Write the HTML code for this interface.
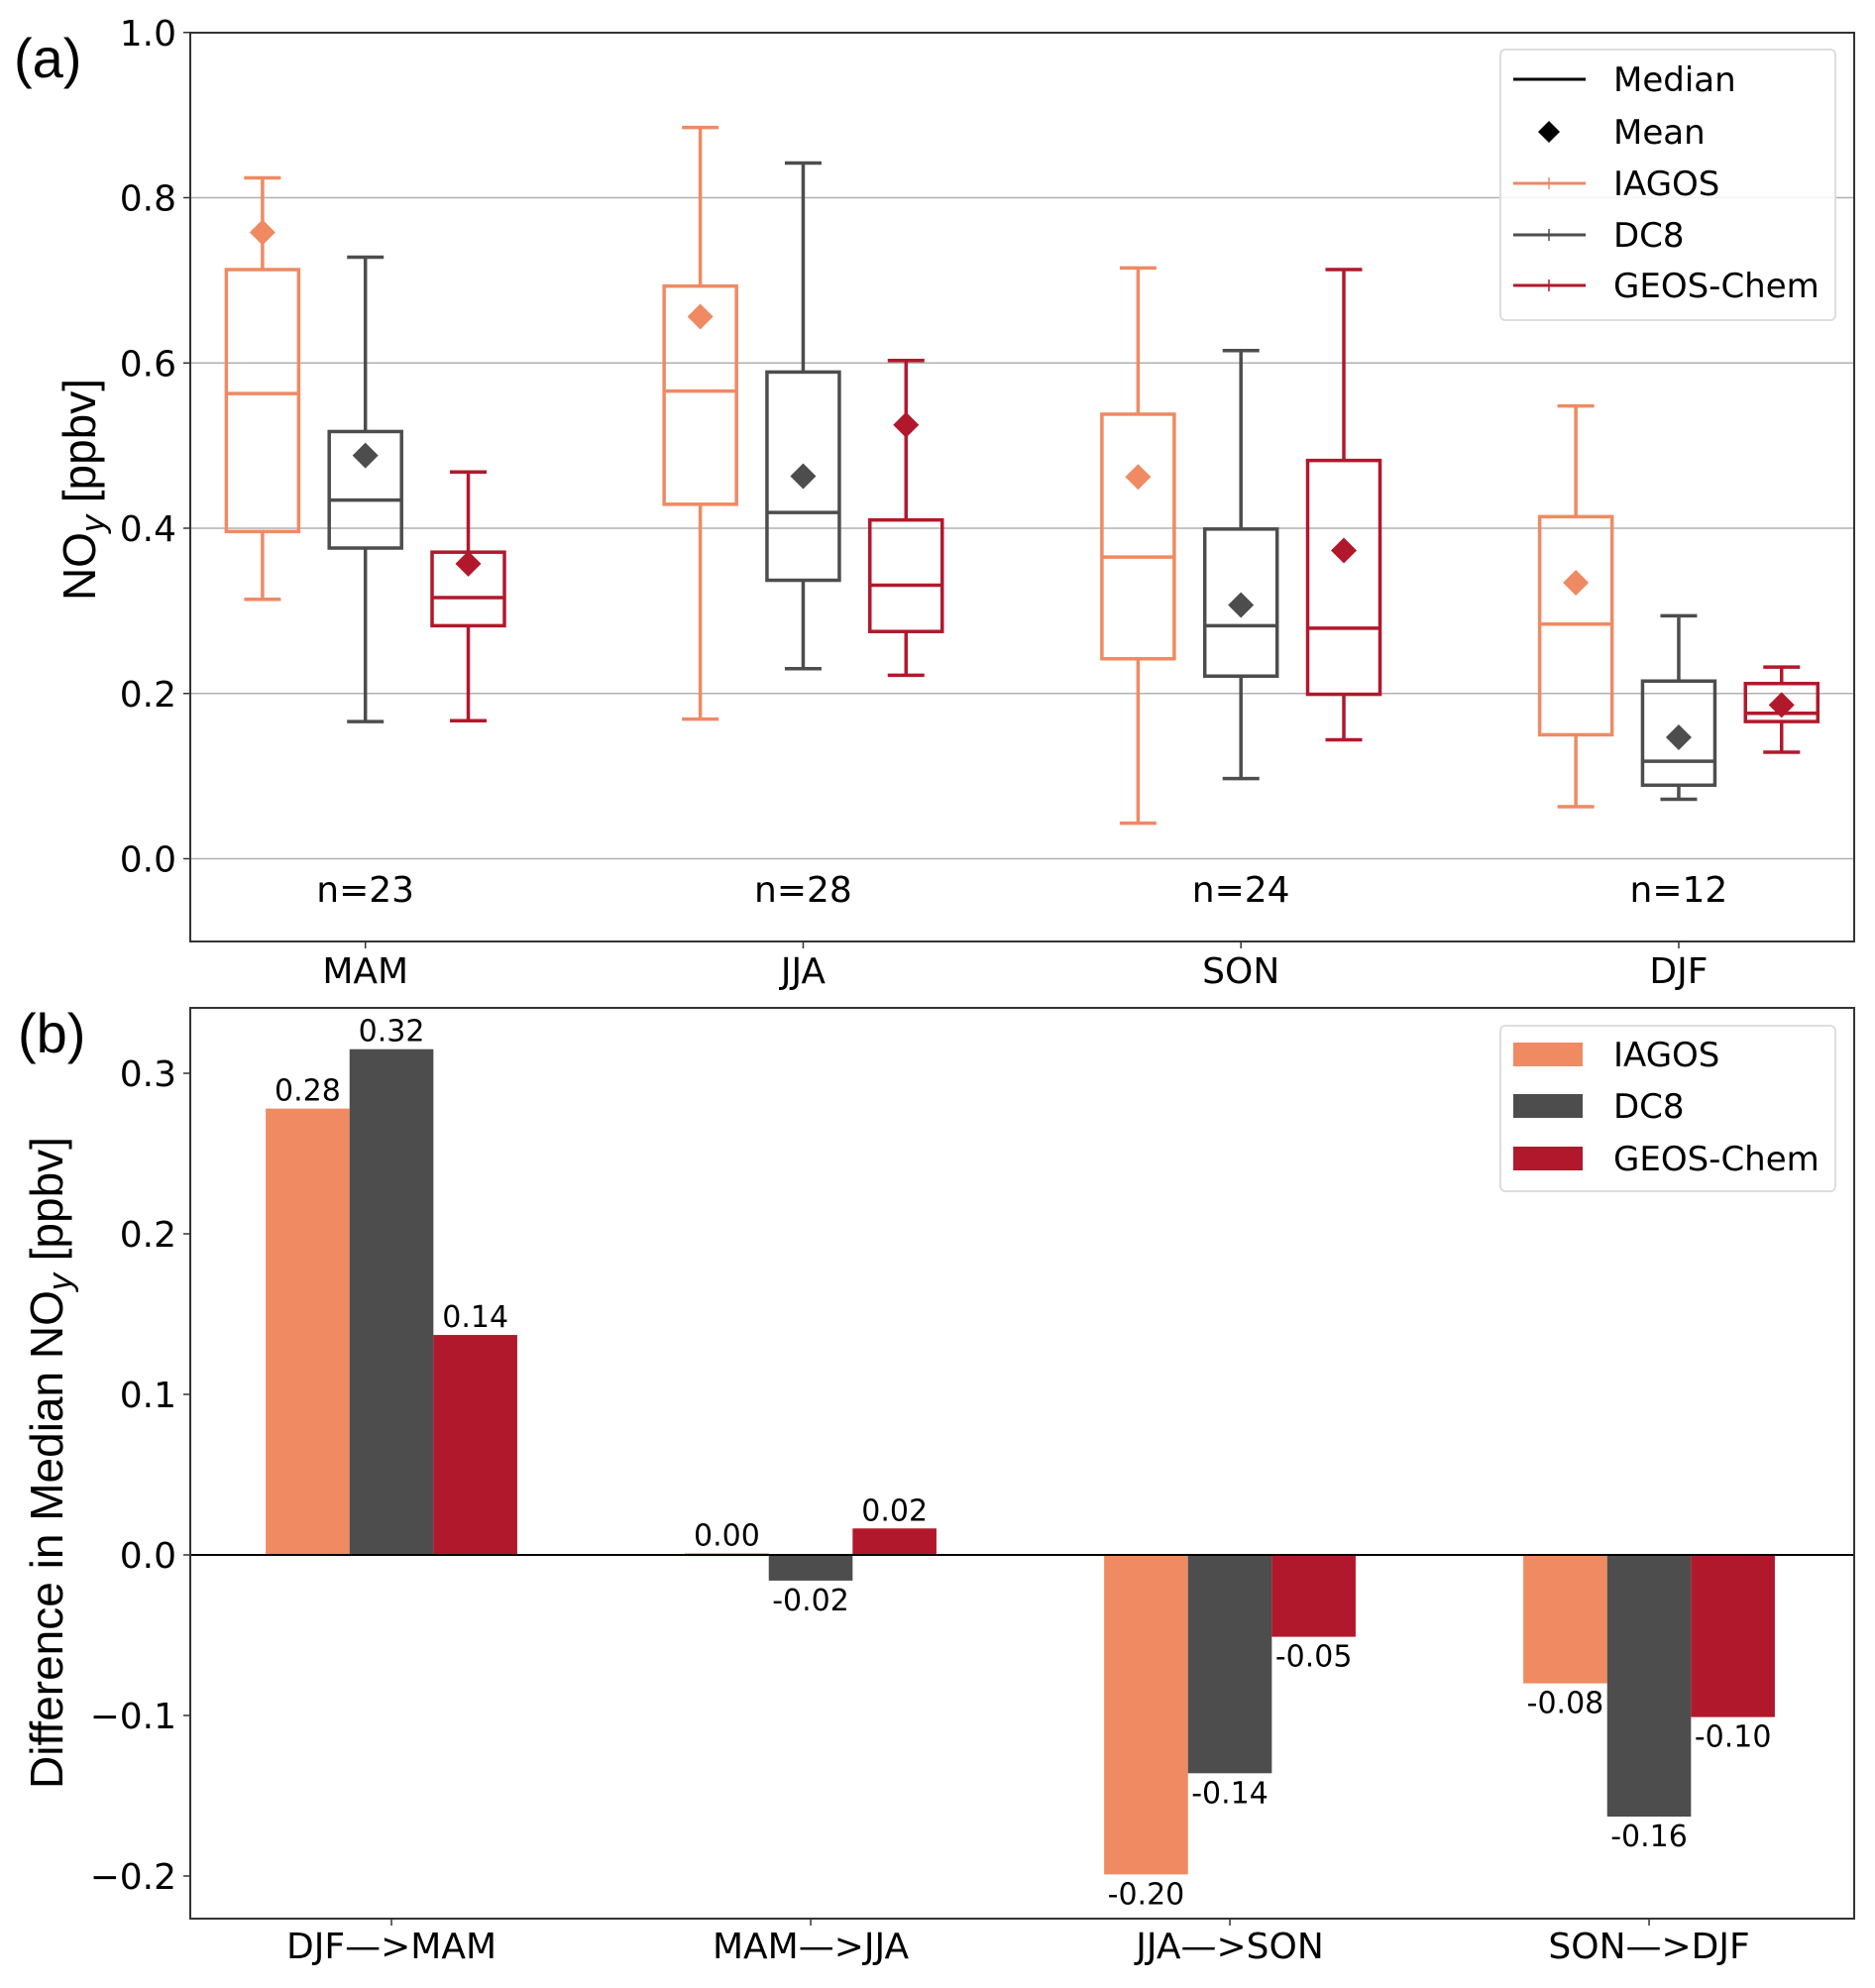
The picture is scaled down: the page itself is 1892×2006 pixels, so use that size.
<!DOCTYPE html>
<html><head><meta charset="utf-8"><style>
html,body{margin:0;padding:0;background:#fff}
svg{display:block}
text{font-family:"DejaVu Sans","Liberation Sans",sans-serif;fill:#000}
</style></head><body>
<svg id="chart" width="1892" height="2006" viewBox="0 0 1892 2006" xmlns="http://www.w3.org/2000/svg"></svg>
<script>
// ---- Panel (a) data ----
const seasons = ["MAM","JJA","SON","DJF"];
const counts = ["n=23","n=28","n=24","n=12"];
const seriesNames = ["IAGOS","DC8","GEOS-Chem"];
const iagosWhiskLow = [0.314,0.169,0.043,0.063];
const iagosQ1 = [0.396,0.429,0.242,0.150];
const iagosMedian = [0.563,0.566,0.365,0.284];
const iagosQ3 = [0.713,0.693,0.538,0.414];
const iagosWhiskHigh = [0.824,0.885,0.715,0.548];
const iagosMean = [0.758,0.656,0.462,0.334];
const dc8WhiskLow = [0.166,0.230,0.097,0.072];
const dc8Q1 = [0.376,0.337,0.221,0.089];
const dc8Median = [0.434,0.419,0.282,0.118];
const dc8Q3 = [0.517,0.589,0.399,0.215];
const dc8WhiskHigh = [0.728,0.842,0.615,0.294];
const dc8Mean = [0.488,0.463,0.307,0.147];
const gcWhiskLow = [0.167,0.222,0.144,0.129];
const gcQ1 = [0.282,0.275,0.199,0.166];
const gcMedian = [0.316,0.331,0.279,0.176];
const gcQ3 = [0.371,0.410,0.482,0.212];
const gcWhiskHigh = [0.468,0.603,0.713,0.232];
const gcMean = [0.357,0.525,0.373,0.186];
const aTicks = [0.0,0.2,0.4,0.6,0.8,1.0];
const aTickLabels = ["0.0","0.2","0.4","0.6","0.8","1.0"];
// ---- Panel (b) data ----
const transitions = ["DJF\u2014>MAM","MAM\u2014>JJA","JJA\u2014>SON","SON\u2014>DJF"];
const iagosDiff = [0.278,0.001,-0.199,-0.080];
const dc8Diff = [0.315,-0.016,-0.136,-0.163];
const gcDiff = [0.137,0.0165,-0.051,-0.101];
const bTicks = [-0.2,-0.1,0.0,0.1,0.2,0.3];
const bTickLabels = ["\u22120.2","\u22120.1","0.0","0.1","0.2","0.3"];

const colors = ["#EF8A62","#4D4D4D","#B2182B"];
const NS = "http://www.w3.org/2000/svg";
const svg = document.getElementById("chart");
function el(tag, attrs, parent, txt){
  const e = document.createElementNS(NS, tag);
  for (const k in attrs) e.setAttribute(k, attrs[k]);
  if (txt !== undefined) e.textContent = txt;
  (parent||svg).appendChild(e);
  return e;
}
const L = 192, R = 1871;
const ya = v => 866.5 - v*833.75;
const xa = i => L + (i + 0.4) * 441.75;
const yb = v => 1569 - v*1620;
const xb = i => L + (i + 0.48) * 423;
const FS = 36;

// ===== Panel (a) =====
const gA = el("g", {});


aTicks.forEach((t,i)=>{
  if (t<1) {
    const g = el("line",{x1:L,x2:R,y1:ya(t),y2:ya(t),stroke:"#b0b0b0","stroke-width":1.5},gA);
    
    
  }
  el("line",{x1:L-7,x2:L,y1:ya(t),y2:ya(t),stroke:"#333","stroke-width":1.5},gA);
  const tl = el("text",{x:L-14,y:ya(t)+13,"text-anchor":"end","font-size":FS},gA,aTickLabels[i]);
  
  
});
const boxSets = [
  [iagosWhiskLow,iagosQ1,iagosMedian,iagosQ3,iagosWhiskHigh,iagosMean],
  [dc8WhiskLow,dc8Q1,dc8Median,dc8Q3,dc8WhiskHigh,dc8Mean],
  [gcWhiskLow,gcQ1,gcMedian,gcQ3,gcWhiskHigh,gcMean]
];
const offs = [-0.235,0,0.235];
seasons.forEach((s,i)=>{
  boxSets.forEach((set,k)=>{
    const cx = xa(i + offs[k]);
    const c = colors[k];
    const g = el("g",{stroke:c,"stroke-width":3.5,fill:"none"},gA);
    
    
    const hw = 36.5, cw = 18.5;
    const [lo,q1,md,q3,hi,mn] = set.map(a=>a[i]);
    el("line",{x1:cx,x2:cx,y1:ya(lo),y2:ya(q1)},g);
    el("line",{x1:cx,x2:cx,y1:ya(q3),y2:ya(hi)},g);
    el("line",{x1:cx-cw,x2:cx+cw,y1:ya(lo),y2:ya(lo)},g);
    el("line",{x1:cx-cw,x2:cx+cw,y1:ya(hi),y2:ya(hi)},g);
    el("rect",{x:cx-hw,y:ya(q3),width:2*hw,height:ya(q1)-ya(q3)},g);
    el("line",{x1:cx-hw,x2:cx+hw,y1:ya(md),y2:ya(md)},g);
    const d = 13, my = ya(mn);
    const m = el("path",{d:`M${cx} ${my-d} L${cx+d} ${my} L${cx} ${my+d} L${cx-d} ${my} Z`,fill:c,stroke:"none"},gA);
    
    
  });
  const n = el("text",{x:xa(i),y:910,"text-anchor":"middle","font-size":FS},gA,counts[i]);
  
  
  el("line",{x1:xa(i),x2:xa(i),y1:950,y2:957,stroke:"#333","stroke-width":1.5},gA);
  const xl = el("text",{x:xa(i),y:992,"text-anchor":"middle","font-size":FS},gA,s);
  
  
});
const frA = el("rect",{x:L,y:33,width:R-L,height:950-33,fill:"none",stroke:"#333","stroke-width":2},gA);


const ylA = el("text",{transform:"translate(96,494) rotate(-90)","text-anchor":"middle","font-size":46,style:"font-family:'Liberation Sans',sans-serif"},gA);


el("tspan",{},ylA,"NO");
el("tspan",{dy:9,"font-size":34,"font-style":"italic"},ylA,"y");
el("tspan",{dy:-9},ylA," [ppbv]");
const pa = el("text",{x:14,y:78,"font-size":56,style:"font-family:'Liberation Sans',sans-serif"},gA,"(a)");


const lgA = el("g",{},gA);


el("rect",{x:1514,y:50,width:338,height:273,rx:5,fill:"#fff","fill-opacity":0.85,stroke:"#ddd","stroke-width":2},lgA);
const legA = [["Median","#000","line"],["Mean","#000","mark"],["IAGOS",colors[0],"cap"],["DC8",colors[1],"cap"],["GEOS-Chem",colors[2],"cap"]];
const legAy = [80,133,185,237,288];
legA.forEach((e,i)=>{
  const y = legAy[i];
  const g = el("g",{},lgA);
  
  
  if (e[2]==="mark") el("path",{d:`M1563 ${y-11} L1574 ${y} L1563 ${y+11} L1552 ${y} Z`,fill:"#000"},g);
  else el("line",{x1:1527,x2:1600,y1:y,y2:y,stroke:e[1],"stroke-width":3},g);
  if (e[2]==="cap") el("line",{x1:1563,x2:1563,y1:y-6,y2:y+6,stroke:e[1],"stroke-width":1.5},g);
  el("text",{x:1628,y:y+12,"font-size":34},g,e[0]);
});

// ===== Panel (b) =====
const gB = el("g",{});


bTicks.forEach((t,i)=>{
  el("line",{x1:L-7,x2:L,y1:yb(t),y2:yb(t),stroke:"#333","stroke-width":1.5},gB);
  const tl = el("text",{x:L-14,y:yb(t)+13,"text-anchor":"end","font-size":FS},gB,bTickLabels[i]);
  
  
});
const diffs = [iagosDiff,dc8Diff,gcDiff];
const bw = 0.2;
transitions.forEach((tn,i)=>{
  diffs.forEach((arr,k)=>{
    const v = arr[i];
    const x0 = xb(i + (k-1)*bw - bw/2), x1 = xb(i + (k-1)*bw + bw/2);
    const y0 = yb(Math.max(v,0)), y1 = yb(Math.min(v,0));
    const r = el("rect",{x:x0,y:y0,width:x1-x0,height:Math.max(y1-y0,1),fill:colors[k]},gB);
    
    
    const lbl = v.toFixed(2).replace("-0.00","0.00");
    const ly = v >= 0 ? yb(v)-8 : yb(v)+30;
    const t = el("text",{x:(x0+x1)/2,y:ly,"text-anchor":"middle","font-size":30},gB,lbl);
    
    
  });
  el("line",{x1:xb(i),x2:xb(i),y1:1936,y2:1943,stroke:"#333","stroke-width":1.5},gB);
  const xl = el("text",{x:xb(i),y:1976,"text-anchor":"middle","font-size":FS},gB,tn);
  
  
});
const zl = el("line",{x1:L,x2:R,y1:yb(0),y2:yb(0),stroke:"#000","stroke-width":2},gB);


const frB = el("rect",{x:L,y:1017,width:R-L,height:1936-1017,fill:"none",stroke:"#333","stroke-width":2},gB);


const ylB = el("text",{transform:"translate(63,1476) rotate(-90)","text-anchor":"middle","font-size":46,style:"font-family:'Liberation Sans',sans-serif"},gB);


el("tspan",{},ylB,"Difference in Median NO");
el("tspan",{dy:9,"font-size":34,"font-style":"italic"},ylB,"y");
el("tspan",{dy:-9},ylB," [ppbv]");
const pb = el("text",{x:18,y:1062,"font-size":56,style:"font-family:'Liberation Sans',sans-serif"},gB,"(b)");


const lgB = el("g",{},gB);


el("rect",{x:1514,y:1035,width:338,height:167,rx:5,fill:"#fff",stroke:"#ddd","stroke-width":2},lgB);
const legBy = [1064,1116,1169];
seriesNames.forEach((s,k)=>{
  const g = el("g",{},lgB);
  
  
  el("rect",{x:1527,y:legBy[k]-12,width:70,height:24,fill:colors[k]},g);
  el("text",{x:1628,y:legBy[k]+12,"font-size":34},g,s);
});
</script>
</body></html>
